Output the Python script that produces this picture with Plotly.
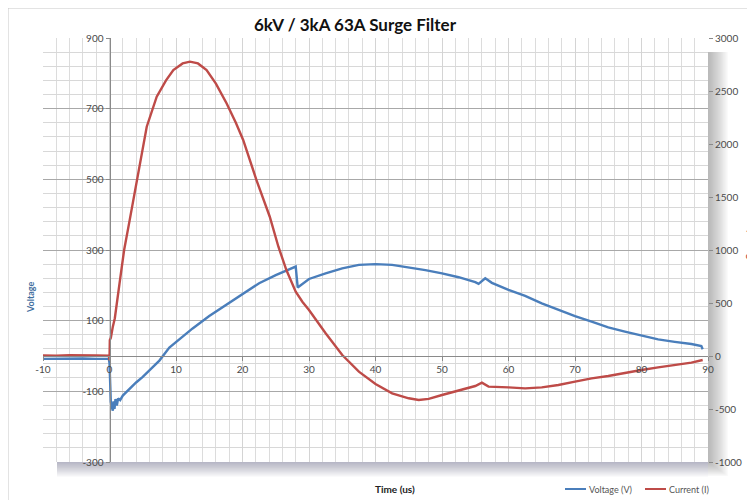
import plotly.graph_objects as go

# ---- data ----
time_v = [-10, -8, -6, -4, -2, -0.1, 0, 0.1, 0.2, 0.35, 0.5, 0.6, 0.75, 0.9, 1.1, 1.3, 1.6, 2, 3, 4, 5, 6,
          7.5, 9, 10, 12.5, 15, 17.5, 20, 22.5, 25, 27.5, 28, 28.3, 29, 30, 32.5, 35, 37.5, 40, 42.5, 45,
          47.5, 50, 52.5, 55, 55.5, 56.5, 57.5, 60, 62.5, 65, 67.5, 70, 72.5, 75, 77.5, 80, 82.5, 85, 87.5,
          89, 89.2]
voltage = [-8, -7, -8, -7, -8, -8, -20, -80, -130, -145, -155, -128, -150, -122, -140, -120, -125, -112, -92,
           -75, -59, -40, -13, 24, 40, 78, 113, 144, 177, 206, 229, 248, 253, 194, 205, 218, 234, 248, 258,
           260, 258, 251, 243, 234, 223, 209, 204, 220, 207, 187, 170, 149, 130, 113, 97, 81, 69, 57, 47,
           40, 34, 28, 19]

time_i = [-10, -8, -6, -4, -2, -0.1, 0, 0.05, 0.2, 0.5, 0.8, 1.5, 2.2, 3, 3.8, 4.7, 5.6, 7.1, 8.5, 9.6, 11,
          12.1, 13.3, 14.6, 16, 17.6, 19, 20.1, 22.1, 24.1, 25.4, 26.6, 27.5, 28, 29, 30, 32.5, 35, 37.5, 40,
          42.5, 45, 46.5, 48, 50, 52.5, 55, 56, 57, 60, 62.5, 65, 67.5, 70, 72.5, 75, 77.5, 80, 82.5, 85,
          87.5, 89.2]
current = [5, 2, 8, 3, 5, 2, -40, 150, 170, 277, 356, 680, 1000, 1270, 1535, 1860, 2163, 2446, 2600, 2698,
           2760, 2777, 2760, 2698, 2570, 2384, 2200, 2038, 1660, 1314, 1031, 811, 686, 607, 512, 434, 214, 9,
           -148, -264, -352, -399, -415, -405, -368, -327, -283, -252, -289, -296, -305, -296, -274, -242,
           -211, -189, -157, -132, -107, -85, -63, -38]

x_ticks = [-10, 0, 10, 20, 30, 40, 50, 60, 70, 80, 90]
x_tick_labels = ["-10", "0", "10", "20", "30", "40", "50", "60", "70", "80", "90"]
yl_ticks = [-300, -100, 100, 300, 500, 700, 900]
yl_tick_labels = ["-300", "-100", "100", "300", "500", "700", "900"]
yr_ticks = [-1000, -500, 0, 500, 1000, 1500, 2000, 2500, 3000]
yr_tick_labels = ["-1000", "-500", "0", "500", "1000", "1500", "2000", "2500", "3000"]

series_names = ["Voltage (V)", "Current (I)"]
title_text = "6kV / 3kA 63A Surge Filter"
x_title = "Time (us)"
y_left_title = "Voltage"
y_right_title = "Current"

# ---- geometry (page pixels; the page body adds an 8px offset) ----
OFF = 8
W, H = 755 - OFF, 500 - OFF
PL, PR, PT, PB = 43, 708, 38, 462          # plot area in page pixels
PW, PH = PR - PL, PB - PT


def px(x):
    return (x - PL) / PW


def py(y):
    return (PB - y) / PH


BLUE = "#4A7EBB"
RED = "#BE4B48"
FONT = "Lato, 'Open Sans', sans-serif"

fig = go.Figure()
fig.add_trace(go.Scatter(x=time_v, y=voltage, mode="lines", name=series_names[0],
                         line=dict(color=BLUE, width=2.4), yaxis="y"))
fig.add_trace(go.Scatter(x=time_i, y=current, mode="lines", name=series_names[1],
                         line=dict(color=RED, width=2.4), yaxis="y2"))

shapes = []
# shadow on right and bottom of plot area
N = 16
for k in range(1, N + 1):
    w = 20 * k / N
    shapes.append(dict(type="rect", xref="paper", yref="paper", layer="below",
                       x0=px(PR), x1=px(PR + w), y0=py(PB + 14 * k / N), y1=py(PT + 14),
                       fillcolor="rgba(90,90,110,0.03)", line=dict(width=0)))
    shapes.append(dict(type="rect", xref="paper", yref="paper", layer="below",
                       x0=px(PL + 14), x1=px(PR), y0=py(PB), y1=py(PB + 15 * k / N),
                       fillcolor="rgba(90,90,110,0.028)", line=dict(width=0)))
# outer chart border
shapes.append(dict(type="rect", xref="paper", yref="paper", layer="below",
                   x0=px(8), x1=px(800), y0=py(560), y1=py(8),
                   line=dict(color="#C8C8C8", width=1), fillcolor="rgba(0,0,0,0)"))

# custom legend (short line samples like the reference)
legend_items = [(565, series_names[0], BLUE), (645, series_names[1], RED)]
annotations = []
for lx, name, col in legend_items:
    shapes.append(dict(type="line", xref="paper", yref="paper", x0=px(lx), x1=px(lx + 21),
                       y0=py(489), y1=py(489), line=dict(color=col, width=2)))
    annotations.append(dict(text=name, xref="paper", yref="paper", x=px(lx + 22), y=py(489),
                            showarrow=False, xanchor="left", yanchor="middle",
                            font=dict(family=FONT, size=9, color="#555555")))

annotations += [
    dict(text=x_title, xref="paper", yref="paper", x=px(395), y=py(489), showarrow=False,
         font=dict(family=FONT, size=10, color="#222222", weight="bold"), xanchor="center", yanchor="middle"),
    dict(text=y_left_title, xref="paper", yref="paper", x=px(30), y=py(297), showarrow=False, textangle=-90,
         font=dict(family=FONT, size=9, color="#3F6E9E", weight="bold"), xanchor="center", yanchor="middle"),
    dict(text=y_right_title, xref="paper", yref="paper", x=px(749), y=py(245), showarrow=False, textangle=-90,
         font=dict(family=FONT, size=9, color="#C0504D", weight="bold"), xanchor="center", yanchor="middle"),
]

tickfont = dict(family=FONT, size=10, color="#4A4A4A")

fig.update_layout(
    width=W, height=H,
    margin=dict(l=PL - OFF, r=W - (PR - OFF), t=PT - OFF, b=H - (PB - OFF), autoexpand=False),
    paper_bgcolor="white", plot_bgcolor="white",
    title=dict(text=title_text, x=(355 - OFF) / W, xanchor="center", y=1 - (25 - OFF) / H, yanchor="middle",
               font=dict(family=FONT, size=17, color="#111111", weight="bold")),
    xaxis=dict(range=[-10, 90], tickmode="array", tickvals=x_ticks, ticktext=x_tick_labels,
               showgrid=True, gridcolor="#D4D4D4", gridwidth=1,
               minor=dict(tick0=-10, dtick=2, showgrid=True, gridcolor="#DCDCDC", gridwidth=1),
               zeroline=False, showline=True, linecolor="#8A8A8A", linewidth=1,
               anchor="free", position=py(356), ticks="outside", ticklen=4, tickcolor="#8A8A8A",
               tickfont=tickfont, automargin=False),
    yaxis=dict(range=[-300, 900], tickmode="array", tickvals=yl_ticks, ticktext=yl_tick_labels,
               showgrid=True, gridcolor="#A8A8A8", gridwidth=1,
               minor=dict(tick0=-300, dtick=40, showgrid=True, gridcolor="#D8D8D8", gridwidth=1),
               zeroline=False, showline=True, linecolor="#8A8A8A", linewidth=1,
               anchor="free", position=px(109.5), ticks="outside", ticklen=4, tickcolor="#8A8A8A",
               tickfont=tickfont, automargin=False),
    yaxis2=dict(range=[-1000, 3000], tickmode="array", tickvals=yr_ticks, ticktext=yr_tick_labels,
                overlaying="y", side="right",
                showgrid=False, zeroline=False, showline=False, ticks="outside", ticklen=4,
                tickcolor="#8A8A8A", tickfont=tickfont, automargin=False),
    showlegend=False,
    shapes=shapes,
    annotations=annotations,
)

fig.write_html("out.html")
